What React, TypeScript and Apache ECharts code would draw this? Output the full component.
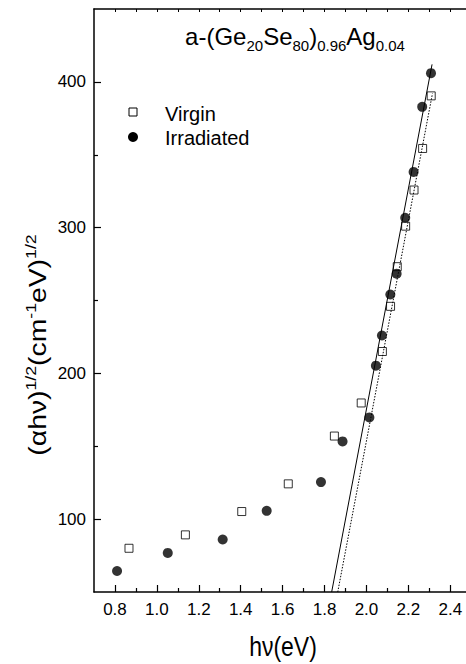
import React, { useEffect, useRef } from "react";
import * as echarts from "echarts";

// Virgin sample (open squares)
const virginX = [0.867, 1.136, 1.405, 1.627, 1.847, 1.975, 2.076, 2.115, 2.147, 2.187, 2.227, 2.268, 2.309];
const virginY = [80, 89.2, 105.2, 124.2, 157, 179.7, 215, 246, 273.2, 301, 325.8, 354.3, 390.4];

// Irradiated sample (filled circles)
const irrX = [0.81, 1.052, 1.314, 1.524, 1.783, 1.886, 2.014, 2.045, 2.074, 2.114, 2.144, 2.185, 2.225, 2.266, 2.308];
const irrY = [64.4, 76.8, 86, 105.7, 125.4, 153.3, 169.8, 205.3, 226, 254.1, 268.4, 306.8, 338.2, 382.9, 406];

// Linear fits (end points)
const irrFitX = [1.834, 2.313];
const irrFitY = [50, 412];
const virginFitX = [1.863, 2.315];
const virginFitY = [50, 392];

// Axis ticks
const xMajorTicks = [0.8, 1.0, 1.2, 1.4, 1.6, 1.8, 2.0, 2.2, 2.4];
const xMinorTicks = [0.9, 1.1, 1.3, 1.5, 1.7, 1.9, 2.1, 2.3];
const xTopTicks = [0.8, 0.9, 1.0, 1.1, 1.2, 1.3, 1.4, 1.5, 1.6, 1.7, 1.8, 1.9, 2.0, 2.1, 2.2, 2.3, 2.4];
const yMajorTicks = [100, 200, 300, 400];
const yMinorTicks = [150, 250, 350];

const FONT = '"Liberation Sans", Arial, Helvetica, sans-serif';

const zip = (xs: number[], ys: number[]) => xs.map((x, i) => [x, ys[i]]);

export default function App() {
  const ref = useRef<HTMLDivElement>(null);
  useEffect(() => {
    if (!ref.current) return;
    const chart = echarts.init(ref.current, null, { renderer: "svg" });
    const axisLine = { show: true, lineStyle: { color: "#000", width: 1.5 } };
    const xMin = 0.7;
    const xMax = 2.475;
    const yMin = 50;
    const yMax = 450;
    chart.setOption({
      animation: false,
      backgroundColor: "#fff",
      grid: { left: 94, top: 9, right: 0, bottom: 72, containLabel: false },
      xAxis: [
        {
          type: "value", position: "bottom", min: xMin, max: xMax,
          axisLine, splitLine: { show: false },
          axisTick: { show: true, inside: true, length: 7, customValues: xMajorTicks, lineStyle: { color: "#000", width: 1.2 } },
          axisLabel: {
            show: true, customValues: xMajorTicks, margin: 9, color: "#000", fontSize: 17, fontFamily: FONT,
            formatter: (v: number) => v.toFixed(1),
          },
        },
        {
          type: "value", position: "bottom", min: xMin, max: xMax,
          axisLine: { show: false }, splitLine: { show: false },
          axisTick: { show: true, inside: true, length: 4, customValues: xMinorTicks, lineStyle: { color: "#000", width: 1.2 } },
          axisLabel: { show: false },
        },
        {
          type: "value", position: "top", min: xMin, max: xMax,
          axisLine, splitLine: { show: false },
          axisTick: { show: true, inside: true, length: 3, customValues: xTopTicks, lineStyle: { color: "#000", width: 1 } },
          axisLabel: { show: false },
        },
      ],
      yAxis: [
        {
          type: "value", position: "left", min: yMin, max: yMax,
          axisLine, splitLine: { show: false },
          axisTick: { show: true, inside: true, length: 7, customValues: yMajorTicks, lineStyle: { color: "#000", width: 1.2 } },
          axisLabel: {
            show: true, customValues: yMajorTicks, margin: 8, color: "#000", fontSize: 17, fontFamily: FONT,
          },
        },
        {
          type: "value", position: "left", min: yMin, max: yMax,
          axisLine: { show: false }, splitLine: { show: false },
          axisTick: { show: true, inside: true, length: 4, customValues: yMinorTicks, lineStyle: { color: "#000", width: 1.2 } },
          axisLabel: { show: false },
        },
      ],
      series: [
        {
          name: "Virgin", type: "scatter", data: zip(virginX, virginY),
          symbol: "rect", symbolSize: 8, z: 2,
          itemStyle: { color: "#fff", borderColor: "#000", borderWidth: 1 },
        },
        {
          name: "Irradiated", type: "scatter", data: zip(irrX, irrY),
          symbol: "circle", symbolSize: 10, z: 3,
          itemStyle: { color: "#000" },
        },
        {
          name: "Irradiated fit", type: "line", data: zip(irrFitX, irrFitY),
          showSymbol: false, symbol: "none", z: 4,
          lineStyle: { color: "#000", width: 1, type: "solid" },
        },
        {
          name: "Virgin fit", type: "line", data: zip(virginFitX, virginFitY),
          showSymbol: false, symbol: "none", z: 4,
          lineStyle: { color: "#000", width: 1, type: [1.5, 1.5] },
        },
      ],
      graphic: [
        {
          type: "text", x: 295, y: 36, z: 10,
          style: {
            text: "{m|a-(Ge}{s|20}{m|Se}{s|80}{m|)}{s|0.96}{m|Ag}{s|0.04}",
            align: "center", verticalAlign: "middle", fill: "#000",
            rich: {
              m: { fontSize: 24, lineHeight: 30, fontFamily: FONT, fill: "#000" },
              s: { fontSize: 15, lineHeight: 34, verticalAlign: "bottom", fontFamily: FONT, fill: "#000" },
            },
          },
        },
        {
          type: "text", x: 283, y: 646, scaleY: 1.2, z: 10,
          style: { text: "hν(eV)", fontSize: 23, fontFamily: FONT, fill: "#000", align: "center", verticalAlign: "middle" },
        },
        {
          type: "text", x: 38, y: 345, rotation: Math.PI / 2, scaleX: 1.18, z: 10,
          style: {
            text: "{m|(αhν)}{p|1/2}{m|(cm}{p|-1}{m|eV)}{p|1/2}",
            align: "center", verticalAlign: "middle", fill: "#000",
            rich: {
              m: { fontSize: 24, lineHeight: 30, fontFamily: FONT, fill: "#000" },
              p: { fontSize: 15, lineHeight: 14, verticalAlign: "top", fontFamily: FONT, fill: "#000" },
            },
          },
        },
        {
          type: "rect", z: 10,
          shape: { x: 129, y: 108, width: 8, height: 8 },
          style: { fill: "#fff", stroke: "#000", lineWidth: 1 },
        },
        {
          type: "text", x: 165, y: 114, z: 10,
          style: { text: "Virgin", fontSize: 20, fontFamily: FONT, fill: "#000", align: "left", verticalAlign: "middle" },
        },
        {
          type: "circle", z: 10,
          shape: { cx: 133, cy: 137, r: 5 },
          style: { fill: "#000" },
        },
        {
          type: "text", x: 165, y: 138, z: 10,
          style: { text: "Irradiated", fontSize: 20, fontFamily: FONT, fill: "#000", align: "left", verticalAlign: "middle" },
        },
      ],
    });
    return () => chart.dispose();
  }, []);
  return (
    <div
      ref={ref}
      style={{ position: "fixed", left: 0, top: 0, width: 466, height: 664, background: "#fff" }}
    />
  );
}
